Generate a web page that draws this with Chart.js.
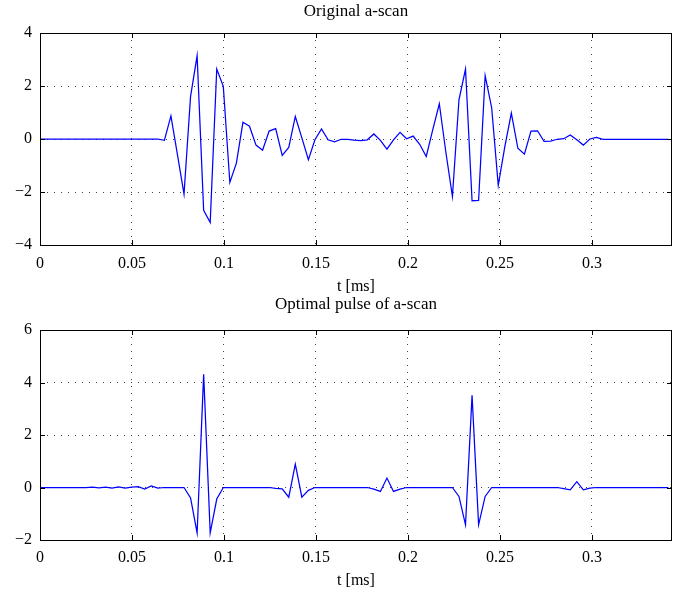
<!DOCTYPE html>
<html>
<head>
<meta charset="utf-8">
<script src="https://cdn.jsdelivr.net/npm/chart.js@4"></script>
<style>
  html, body { margin: 0; padding: 0; background: #fff; }
  body { width: 675px; height: 601px; position: relative; overflow: hidden; }
  canvas { position: absolute; left: 0; }
  #top-wrap { position: absolute; left: 0; top: 0; width: 675px; height: 300px; }
  #bot-wrap { position: absolute; left: 0; top: 292px; width: 675px; height: 309px; }
</style>
</head>
<body>
<div id="top-wrap"><canvas id="chart-ascan" width="675" height="300"></canvas></div>
<div id="bot-wrap"><canvas id="chart-pulse" width="675" height="309"></canvas></div>
<script>
// sample step of the a-scan, ms
const DT = 0.003558;
const X_MAX = 0.3435;
const X_TICKS = [0, 0.05, 0.1, 0.15, 0.2, 0.25, 0.3];

// original a-scan, one value per sample
const ascan = [
  0, 0, 0, 0, 0, 0, 0, 0, 0, 0,
  0, 0, 0, 0, 0, 0, 0, 0, 0, -0.05,
  0.87, -0.6, -2.08, 1.61, 3.14, -2.69, -3.15, 2.64, 1.99, -1.64,
  -0.91, 0.63, 0.48, -0.23, -0.42, 0.30, 0.39, -0.62, -0.32, 0.85,
  0.04, -0.78, -0.03, 0.38, -0.03, -0.11, -0.01, -0.01, -0.04, -0.06,
  -0.03, 0.19, -0.05, -0.38, -0.03, 0.25, 0.01, 0.11, -0.2, -0.66,
  0.35, 1.33, -0.5, -2.17, 1.48, 2.64, -2.33, -2.32, 2.39, 1.17,
  -1.75, -0.3, 0.98, -0.35, -0.57, 0.30, 0.31, -0.09, -0.08, -0.01,
  0.01, 0.15, -0.03, -0.23, 0.0, 0.06, -0.01, -0.01, -0.01, -0.01,
  -0.01, -0.01, -0.01, -0.01, -0.01, -0.01, -0.01
];

// optimal pulse of the a-scan
const pulse = [
  0, 0, 0, 0, 0, 0, 0, 0, 0.01, -0.01,
  0.01, -0.02, 0.02, -0.02, 0.01, 0.03, -0.06, 0.06, -0.02, 0,
  0, 0, 0, -0.40, -1.73, 4.31, -1.73, -0.44, 0, 0,
  0, 0, 0, 0, 0, 0, -0.03, -0.05, -0.37, 0.89,
  -0.37, -0.11, 0, 0, 0, 0, 0, 0, 0, 0,
  0, -0.06, -0.15, 0.36, -0.15, -0.06, 0, 0, 0, 0,
  0, 0, 0, 0, -0.34, -1.42, 3.51, -1.42, -0.34, 0,
  0, 0, 0, 0, 0, 0, 0, 0, 0, 0,
  -0.04, -0.09, 0.22, -0.09, -0.02, 0, 0, 0, 0, 0,
  0, 0, 0, 0, 0, 0, 0
];

const FONT = 'Liberation Serif, DejaVu Serif, serif';
const fmt = v => String(+v.toFixed(3)).replace('-', '\u2212');

// box round the plot, inward ticks and a title centred over the axes, as in the matlab figure
const boxPlugin = {
  id: 'matlabBox',
  afterDraw(chart) {
    const { ctx, chartArea: a, scales } = chart;
    const opts = chart.config.options._axesTitle;
    ctx.save();
    ctx.strokeStyle = '#000';
    ctx.lineWidth = 1;
    ctx.strokeRect(Math.round(a.left) + 0.5, Math.round(a.top) + 0.5,
      Math.round(a.right - a.left) - 1, Math.round(a.bottom - a.top));
    const L = 5;
    ctx.beginPath();
    scales.x.ticks.forEach(t => {
      const x = Math.round(scales.x.getPixelForValue(t.value)) + 0.5;
      ctx.moveTo(x, a.bottom); ctx.lineTo(x, a.bottom - L);
      ctx.moveTo(x, a.top); ctx.lineTo(x, a.top + L);
    });
    scales.y.ticks.forEach(t => {
      const y = Math.round(scales.y.getPixelForValue(t.value)) + 0.5;
      ctx.moveTo(a.left, y); ctx.lineTo(a.left + L, y);
      ctx.moveTo(a.right, y); ctx.lineTo(a.right - L, y);
    });
    ctx.stroke();
    if (opts) {
      ctx.fillStyle = '#000';
      ctx.font = '17px ' + FONT;
      ctx.textAlign = 'center';
      ctx.textBaseline = 'middle';
      ctx.fillText(opts.text, (a.left + a.right) / 2, a.top - opts.offset);
    }
    ctx.restore();
  }
};

function buildChart(id, title, values, yMin, yMax, geo) {
  const points = values.map((v, i) => ({ x: i * DT, y: v }));
  return new Chart(document.getElementById(id), {
    type: 'line',
    data: {
      datasets: [{
        data: points,
        borderColor: '#0000ff',
        borderWidth: 1.25,
        pointRadius: 0,
        tension: 0,
        fill: false,
      }]
    },
    plugins: [boxPlugin],
    options: {
      responsive: false,
      animation: false,
      events: [],
      _axesTitle: { text: title, offset: geo.titleOffset },
      layout: { padding: { left: 0, right: 3, top: geo.top, bottom: 0 } },
      scales: {
        x: {
          type: 'linear',
          min: 0, max: X_MAX,
          afterBuildTicks: s => { s.ticks = X_TICKS.map(v => ({ value: v })); },
          afterFit: s => { s.height = geo.xh; },
          ticks: { color: '#000', padding: geo.tickPad, maxRotation: 0, autoSkip: false,
                   font: { family: FONT, size: 16 }, callback: v => fmt(v) },
          grid: { color: '#444', lineWidth: 1, drawTicks: false },
          border: { display: false, dash: [1, 6] },
          title: { display: true, text: 't [ms]', color: '#000',
                   font: { family: FONT, size: 16 }, padding: { top: 0, bottom: geo.titlePad } }
        },
        y: {
          min: yMin, max: yMax,
          afterFit: s => { s.width = 40; },
          ticks: { color: '#000', stepSize: 2, padding: 8,
                   font: { family: FONT, size: 16 }, callback: v => fmt(v) },
          grid: { color: '#444', lineWidth: 1, drawTicks: false },
          border: { display: false, dash: [1, 6] }
        }
      },
      plugins: {
        legend: { display: false },
        tooltip: { enabled: false },
        title: { display: false }
      }
    }
  });
}

buildChart('chart-ascan', 'Original a-scan', ascan, -4, 4,
  { top: 33, titleOffset: 21, xh: 55, tickPad: 9, titlePad: 4 });
buildChart('chart-pulse', 'Optimal pulse of a-scan', pulse, -2, 6,
  { top: 38, titleOffset: 25, xh: 61, tickPad: 8, titlePad: 11 });
</script>
</body>
</html>
